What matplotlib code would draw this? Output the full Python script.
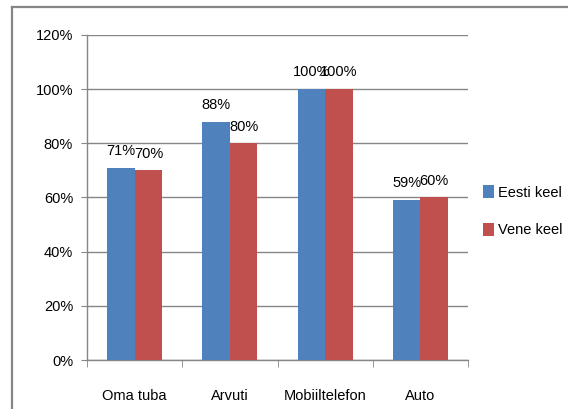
import matplotlib
matplotlib.use("Agg")
from matplotlib import pyplot as plt
from matplotlib.lines import Line2D
import numpy as np

categories = ["Oma tuba", "Arvuti", "Mobiiltelefon", "Auto"]
eesti = [71, 88, 100, 59]
vene = [70, 80, 100, 60]
series_names = ["Eesti keel", "Vene keel"]
yticks = [0, 20, 40, 60, 80, 100, 120]

plt.rcParams['font.family'] = ['Liberation Sans', 'DejaVu Sans']
plt.rcParams['font.size'] = 10.5

W, H = 568, 409
fig = plt.figure(figsize=(W / 100, H / 100), dpi=100)
fig.patch.set_facecolor('white')

# outer chart border (cut off at right and bottom)
grey = '#868686'
fig.add_artist(Line2D([12 / W, 1.0], [1 - 7 / H, 1 - 7 / H], color=grey, lw=1.6))
fig.add_artist(Line2D([12 / W, 12 / W], [0.0, 1 - 7 / H], color=grey, lw=1.6))

ax = fig.add_axes([87 / W, 1 - 360 / H, (468 - 87) / W, (360 - 35) / H])

x = np.arange(len(categories))
bw = 0.29
blue = '#4F81BD'
red = '#C0504D'
b1 = ax.bar(x - bw / 2, eesti, bw, color=blue, label=series_names[0], zorder=3)
b2 = ax.bar(x + bw / 2, vene, bw, color=red, label=series_names[1], zorder=3)

for bars, vals in ((b1, eesti), (b2, vene)):
    for r, v in zip(bars, vals):
        ax.annotate(f"{v}%", (r.get_x() + r.get_width() / 2, v),
                    xytext=(0, 7), textcoords='offset points',
                    ha='center', va='bottom', zorder=4)

ax.set_xlim(-0.5, len(categories) - 0.5)
ax.set_ylim(0, 120)
ax.set_yticks(yticks)
ax.set_yticklabels([f"{t}%" for t in yticks])
ax.yaxis.grid(True, color=grey, lw=1.0, zorder=0)
ax.tick_params(axis='y', length=4, color=grey, pad=6)

ax.set_xticks(x)
ax.set_xticklabels(categories)
ax.set_xticks(np.arange(-0.5, len(categories)), minor=True)
ax.tick_params(axis='x', which='major', length=0, pad=21)
ax.tick_params(axis='x', which='minor', length=5, color=grey)

for s in ('top', 'right'):
    ax.spines[s].set_visible(False)
for s in ('left', 'bottom'):
    ax.spines[s].set_color(grey)
    ax.spines[s].set_linewidth(1.0)

fig.legend(handles=[b1, b2], loc='upper left',
           bbox_to_anchor=(483 / W, 1 - 185 / H), frameon=False,
           handlelength=0.75, handleheight=1.0, handletextpad=0.3,
           labelspacing=1.6, borderpad=0, borderaxespad=0)

fig.savefig("out.png", dpi=100)
